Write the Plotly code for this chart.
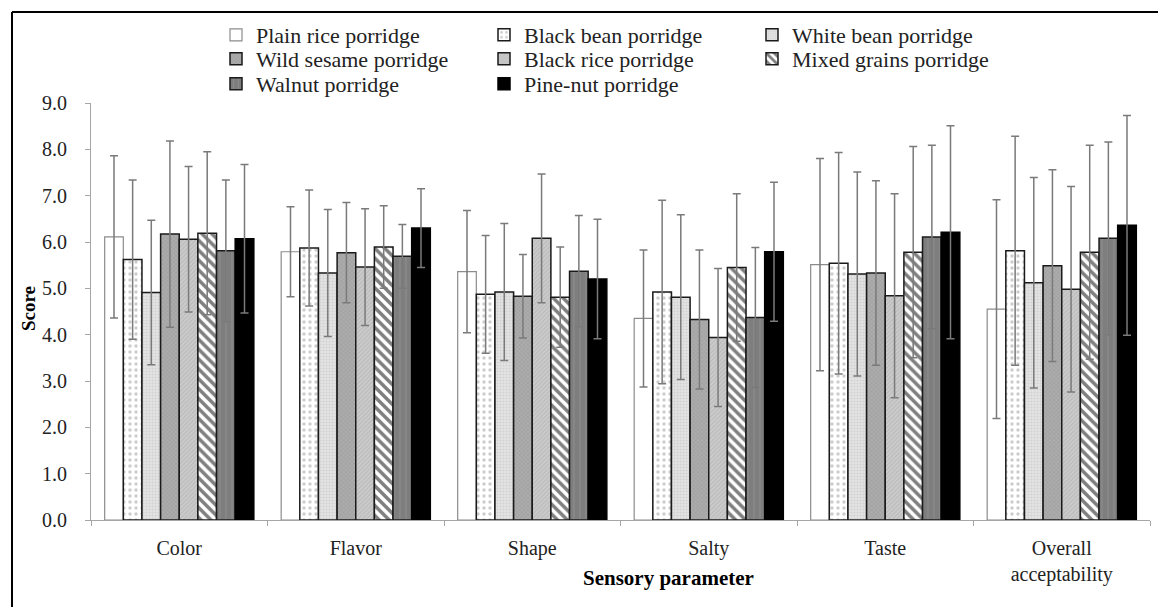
import plotly.graph_objects as go

categories = ["Color", "Flavor", "Shape", "Salty", "Taste", "Overall<br>acceptability"]
series_names = ["Plain rice porridge", "Black bean porridge", "White bean porridge",
                "Wild sesame porridge", "Black rice porridge", "Mixed grains porridge",
                "Walnut porridge", "Pine-nut porridge"]

plain_rice = [6.11, 5.79, 5.36, 4.35, 5.51, 4.55]
black_bean = [5.62, 5.87, 4.87, 4.92, 5.54, 5.81]
white_bean = [4.91, 5.33, 4.92, 4.81, 5.31, 5.12]
wild_sesame = [6.17, 5.77, 4.83, 4.33, 5.33, 5.49]
black_rice = [6.06, 5.46, 6.08, 3.94, 4.84, 4.98]
mixed_grains = [6.19, 5.89, 4.81, 5.45, 5.78, 5.78]
walnut = [5.81, 5.69, 5.37, 4.37, 6.11, 6.08]
pine_nut = [6.07, 6.30, 5.20, 5.79, 6.21, 6.36]

plain_rice_sd = [1.75, 0.97, 1.32, 1.48, 2.29, 2.36]
black_bean_sd = [1.72, 1.25, 1.27, 1.98, 2.39, 2.47]
white_bean_sd = [1.56, 1.37, 1.48, 1.78, 2.20, 2.27]
wild_sesame_sd = [2.01, 1.08, 0.90, 1.50, 1.99, 2.07]
black_rice_sd = [1.57, 1.26, 1.39, 1.49, 2.20, 2.22]
mixed_grains_sd = [1.76, 0.89, 1.08, 1.59, 2.28, 2.31]
walnut_sd = [1.53, 0.69, 1.20, 1.51, 1.98, 2.08]
pine_nut_sd = [1.60, 0.85, 1.29, 1.50, 2.30, 2.37]

values = [plain_rice, black_bean, white_bean, wild_sesame, black_rice, mixed_grains, walnut, pine_nut]
sds = [plain_rice_sd, black_bean_sd, white_bean_sd, wild_sesame_sd, black_rice_sd,
       mixed_grains_sd, walnut_sd, pine_nut_sd]
legend_rows = ["legend", "legend", "legend", "legend2", "legend2", "legend2", "legend3", "legend3"]

styles = [
    dict(color="white", line=dict(color="#8c8c8c", width=1.2)),
    dict(color="white", line=dict(color="#1a1a1a", width=1.5),
         pattern=dict(shape=".", fgcolor="#9a9a9a", bgcolor="white", size=6, solidity=0.25)),
    dict(color="#dcdcdc", line=dict(color="#1a1a1a", width=1.5),
         pattern=dict(shape=".", fgcolor="#bdbdbd", bgcolor="#e4e4e4", size=3, solidity=0.4)),
    dict(color="#a0a0a0", line=dict(color="#1a1a1a", width=1.5),
         pattern=dict(shape="x", fgcolor="#858585", bgcolor="#acacac", size=3, solidity=0.3)),
    dict(color="#c4c4c4", line=dict(color="#1a1a1a", width=1.5),
         pattern=dict(shape="/", fgcolor="#a8a8a8", bgcolor="#cccccc", size=3, solidity=0.4)),
    dict(color="white", line=dict(color="#1a1a1a", width=1.5),
         pattern=dict(shape="\\", fgcolor="black", bgcolor="white", size=7, solidity=0.5)),
    dict(color="#858585", line=dict(color="#1a1a1a", width=1.5),
         pattern=dict(shape="|", fgcolor="#9a9a9a", bgcolor="#7e7e7e", size=6, solidity=0.2)),
    dict(color="black", line=dict(color="black", width=1.5)),
]

fig = go.Figure()
for name, vals, sd, st, lg in zip(series_names, values, sds, styles, legend_rows):
    fig.add_trace(go.Bar(
        name=name, x=categories, y=vals, marker=st, legend=lg,
        error_y=dict(type="data", array=sd, visible=True, color="#7a7a7a", thickness=1.5, width=4),
    ))

# page offset (browser body margin) is 8 px
OFF = 8
W, H = 1158, 599
L, R, T, B = 83, 16, 95, 87
pw, ph = W - L - R, H - T - B

def px_x(p):
    return (p - OFF - L) / pw

def px_y(p):
    return (H - B - (p - OFF)) / ph

fig.add_shape(type="line", xref="paper", yref="paper", x0=px_x(12), x1=px_x(1180), y0=px_y(12), y1=px_y(12),
              line=dict(color="black", width=2))
fig.add_shape(type="line", xref="paper", yref="paper", x0=px_x(12), x1=px_x(12), y0=px_y(12), y1=px_y(620),
              line=dict(color="black", width=2))

font_family = "Liberation Serif"
tick_size = 20
leg_size = 22

def legend_row(ycenter):
    return dict(orientation="h", x=px_x(216), y=px_y(ycenter), xanchor="left", yanchor="middle",
                entrywidth=223, entrywidthmode="pixels", itemwidth=30,
                font=dict(family=font_family, size=leg_size, color="#222222"),
                bgcolor="rgba(0,0,0,0)", traceorder="normal")

fig.add_annotation(text="<b>Sensory parameter</b>", xref="paper", yref="paper",
                   x=px_x(668), y=px_y(578), xanchor="center", yanchor="middle", showarrow=False,
                   font=dict(family=font_family, size=21, color="black"))
fig.add_annotation(text="<b>Score</b>", xref="paper", yref="paper", textangle=-90,
                   x=px_x(28), y=px_y(309), xanchor="center", yanchor="middle", showarrow=False,
                   font=dict(family=font_family, size=19, color="black"))

fig.update_layout(
    width=W, height=H,
    margin=dict(l=L, r=R, t=T, b=B, autoexpand=False),
    plot_bgcolor="white", paper_bgcolor="white",
    barmode="group", bargap=0.155, bargroupgap=0,
    font=dict(family=font_family, size=tick_size, color="#222222"),
    showlegend=True,
    legend=legend_row(35),
    legend2=legend_row(59),
    legend3=legend_row(84),
    xaxis=dict(showline=True, linecolor="#a6a6a6", linewidth=1.2, ticks="outside", tickson="boundaries",
               ticklen=5, tickcolor="#a6a6a6", showgrid=False, automargin=False, ticklabelstandoff=10,
               tickfont=dict(family=font_family, size=tick_size, color="#222222")),
    yaxis=dict(range=[0, 9], dtick=1, tickformat=".1f", showline=True, linecolor="#a6a6a6", linewidth=1.2,
               ticks="outside", ticklen=5, tickcolor="#a6a6a6", showgrid=False, zeroline=False, automargin=False,
               ticklabelstandoff=14,
               tickfont=dict(family=font_family, size=tick_size, color="#222222")),
)

fig.write_html("out.html")
